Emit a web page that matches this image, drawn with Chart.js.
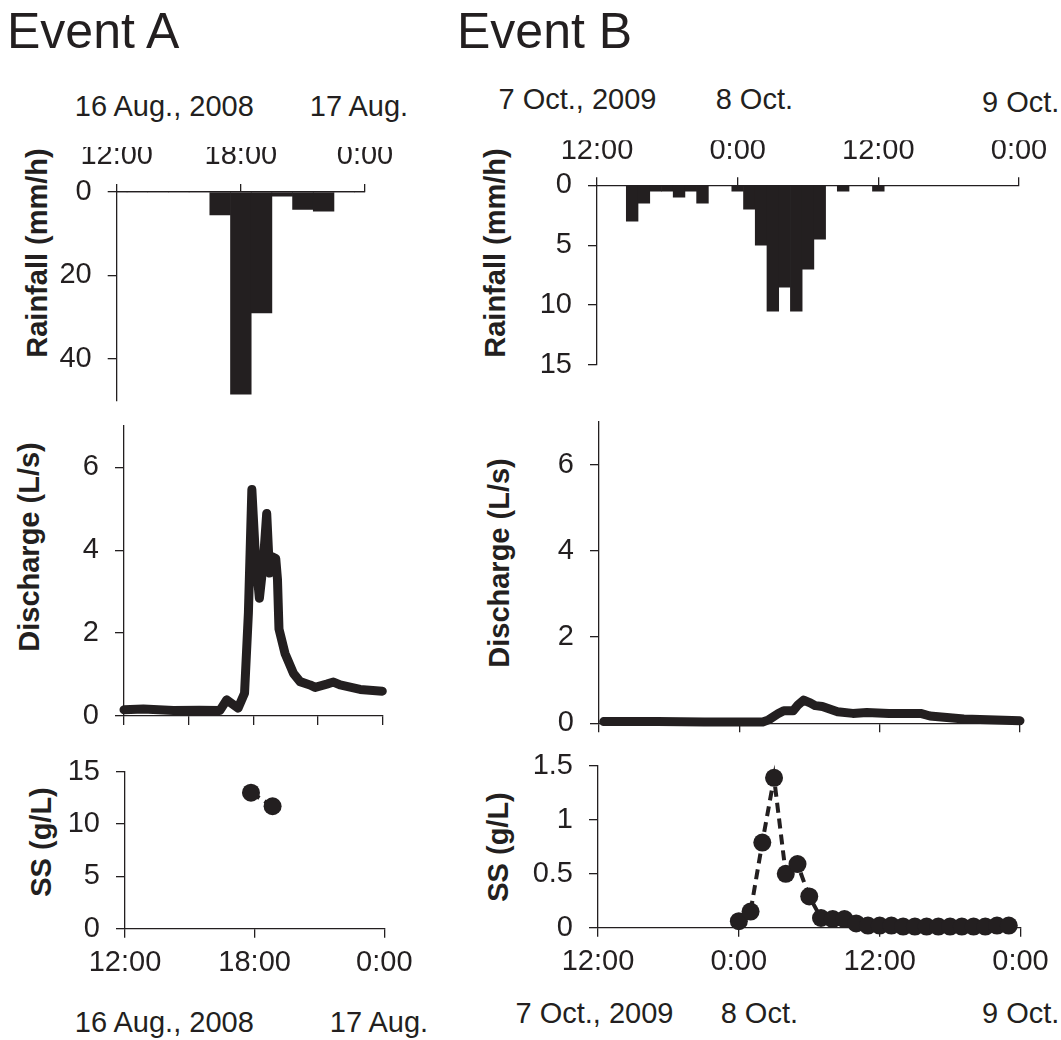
<!DOCTYPE html>
<html><head><meta charset="utf-8">
<script src="https://cdn.jsdelivr.net/npm/chart.js@4.4.1/dist/chart.umd.min.js"></script>
<style>
html,body{margin:0;padding:0;background:#fff;overflow:hidden;}
body{width:1061px;height:1040px;position:relative;font-family:'Liberation Sans',Arial,sans-serif;color:#231f20;}
.t{position:absolute;white-space:nowrap;line-height:1;}
.yt{position:absolute;white-space:nowrap;line-height:1;font-weight:bold;font-size:29px;transform:translate(-50%,-50%) rotate(-90deg);}
canvas{position:absolute;}
</style></head><body>
<script>
// ---------------- DATA (hours counted from 12:00 of the first day) ----------------
// Event A : 16-17 Aug 2008
const rainA_hours = [0,1,2,3,4,5,6,7,8,9,10,11,12];
const rainA_mm    = [0,0,0,0,0,5.5,48.5,29,1,4.2,4.6,0,0];
const dischargeA_hours = [0,0.9,2.3,3.5,4.45,4.77,5.3,5.6,5.78,5.94,6.1,6.29,6.47,6.63,6.76,6.86,7.05,7.13,7.2,7.48,7.87,8.18,8.64,8.88,9.42,9.73,10.04,10.97,12];
const dischargeA_Ls    = [0.15,0.17,0.13,0.14,0.13,0.39,0.19,0.55,2.5,5.47,3.9,2.84,3.69,4.89,3.45,3.85,3.8,3.3,2.1,1.51,1.03,0.83,0.75,0.69,0.77,0.82,0.75,0.64,0.6];
const ssA_hours = [5.83,6.83];
const ssA_gL    = [13.0,11.7];

// Event B : 7-9 Oct 2009
const rainB_hours = [0,1,2,3,4,5,6,7,8,9,10,11,12,13,14,15,16,17,18,19,20,21,22,23,24,25,26,27,28,29,30,31,32,33,34,35,36];
const rainB_mm    = [0,0,0,3,1.5,0.5,0.5,1,0.5,1.5,0,0,0.5,2,5,10.5,8.5,10.5,7,4.5,0,0.5,0,0,0.5,0,0,0,0,0,0,0,0,0,0,0,0];
const dischargeB_hours = [0.4,5,9,14,14.5,15.3,15.8,16.6,17.0,17.5,18.0,18.5,19.1,20.4,21.7,22.9,24.8,27.5,28.3,31.2,36];
const dischargeB_Ls    = [0.04,0.04,0.03,0.03,0.08,0.22,0.29,0.29,0.42,0.54,0.48,0.41,0.39,0.27,0.23,0.25,0.23,0.23,0.17,0.1,0.06];
const ssB_hours = [12,13,14,15,16,17,18,19,20,21,22,23,24,25,26,27,28,29,30,31,32,33,34,35];
const ssB_gL    = [0.06,0.15,0.79,1.39,0.5,0.59,0.29,0.09,0.08,0.08,0.04,0.02,0.02,0.02,0.01,0.01,0.01,0.01,0.01,0.01,0.01,0.01,0.02,0.02];

// Tick values and labels
const xA_ticks = [0,6,12];            const xA_labels = ['12:00','18:00','0:00'];
const xA_dischargeTicks = [0,3,6,9,12];
const xB_ticks = [0,12,24,36];        const xB_labels = ['12:00','0:00','12:00','0:00'];
const rainA_yTicks = [0,20,40];       const rainA_yLabels = ['0','20','40'];
const rainB_yTicks = [0,5,10,15];     const rainB_yLabels = ['0','5','10','15'];
const discharge_yTicks = [0,2,4,6];   const discharge_yLabels = ['0','2','4','6'];
const ssA_yTicks = [0,5,10,15];       const ssA_yLabels = ['0','5','10','15'];
const ssB_yTicks = [0,0.5,1,1.5];     const ssB_yLabels = ['0','0.5','1','1.5'];

// Text
const titles = [['Event A',7,48],['Event B',457,48]];
const dateLabels = [
  ['16 Aug., 2008',74.8,116.7],['17 Aug.',309.8,117],
  ['7 Oct., 2009',498.5,110],['8 Oct.',715.7,110],['9 Oct.',982,113],
  ['16 Aug., 2008',74.8,1033],['17 Aug.',329.8,1033],
  ['7 Oct., 2009',515.5,1024],['8 Oct.',720.7,1024],['9 Oct.',982,1024]
];
const yTitles = [
  ['Rainfall (mm/h)',36.7,252.5],['Discharge (L/s)',29.2,546.7],['SS (g/L)',40.8,841.7],
  ['Rainfall (mm/h)',494.5,252.5],['Discharge (L/s)',498.5,562.5],['SS (g/L)',497.5,846.5]
];

// ---------------- RENDER ----------------
const INK = '#231f20';
const FONT = "'Liberation Sans', Arial, sans-serif";
Chart.defaults.font.family = FONT;
Chart.defaults.font.size = 29;
Chart.defaults.color = INK;

function addText(txt, x, baseline, size) {
  const d = document.createElement('div');
  d.className = 't';
  d.textContent = txt;
  d.style.fontSize = size + 'px';
  d.style.left = x + 'px';
  d.style.top = (baseline - 0.8465 * size) + 'px';
  document.body.appendChild(d);
}
titles.forEach(t => addText(t[0], t[1], t[2], 50));
dateLabels.forEach(t => addText(t[0], t[1], t[2], 29));
yTitles.forEach(t => {
  const d = document.createElement('div');
  d.className = 'yt';
  d.textContent = t[0];
  d.style.left = t[1] + 'px';
  d.style.top = t[2] + 'px';
  document.body.appendChild(d);
});

function pts(xs, ys) { return xs.map((x, i) => ({x: x, y: ys[i]})); }

function panel(cfg) {
  const [L, T, R, B] = cfg.area;
  const WY = 70, HX = 45;
  const cx = Math.floor(L) - 95, cy = Math.floor(T) - 75;
  const cw = Math.ceil(R) + 55 - cx, ch = Math.ceil(B) + 65 - cy;
  const cv = document.createElement('canvas');
  cv.width = cw; cv.height = ch;
  cv.style.left = cx + 'px'; cv.style.top = cy + 'px';
  cv.style.width = cw + 'px'; cv.style.height = ch + 'px';
  document.body.appendChild(cv);
  const topAxis = cfg.xPos === 'top';
  const pad = {
    left: L - cx - WY,
    top: T - cy - (topAxis ? HX : 0),
    right: cx + cw - R,
    bottom: cy + ch - B - (topAxis ? 0 : HX)
  };
  new Chart(cv, {
    type: cfg.type,
    data: {datasets: cfg.datasets},
    options: {
      responsive: false, animation: false, events: [],
      layout: {padding: pad},
      plugins: {legend: {display: false}, tooltip: {enabled: false}},
      scales: {
        x: {
          type: 'linear', position: cfg.xPos, min: cfg.xMin, max: cfg.xMax, offset: false,
          afterBuildTicks: s => { s.ticks = cfg.xTicks.map(v => ({value: v})); },
          afterFit: s => { s.height = HX; },
          ticks: {display: !!cfg.xLabels, padding: cfg.xPad, maxRotation: 0, autoSkip: false,
                  callback: (v, i) => cfg.xLabels ? cfg.xLabels[i] : ''},
          grid: {display: true, drawOnChartArea: false, drawTicks: true, tickLength: cfg.xTL,
                 color: INK, lineWidth: 1.3, offset: false},
          border: {display: true, color: INK, width: 1.3}
        },
        y: {
          type: 'linear', position: 'left', min: cfg.yMin, max: cfg.yMax, reverse: !!cfg.reverse,
          afterBuildTicks: s => { s.ticks = cfg.yTicks.map(v => ({value: v})); },
          afterFit: s => { s.width = WY; },
          ticks: {padding: 16, callback: (v, i) => cfg.yLabels[i]},
          grid: {display: true, drawOnChartArea: false, drawTicks: true, tickLength: 9,
                 color: INK, lineWidth: 1.3},
          border: {display: true, color: INK, width: 1.3}
        }
      }
    }
  });
}

function barSet(xs, ys) {
  return [{type: 'bar', data: pts(xs, ys), backgroundColor: INK, borderWidth: 0,
           barPercentage: 1, categoryPercentage: 1}];
}
function lineSet(xs, ys) {
  return [{type: 'line', data: pts(xs, ys), borderColor: INK, borderWidth: 9, pointRadius: 0,
           tension: 0, fill: false, borderCapStyle: 'round', borderJoinStyle: 'round', clip: false}];
}
function ssSet(xs, ys) {
  return [{type: 'line', data: pts(xs, ys), borderColor: INK, borderWidth: 4, borderDash: [10, 6],
           pointRadius: 9, pointBackgroundColor: INK, pointBorderWidth: 0, tension: 0,
           fill: false, clip: false}];
}

// Event A
panel({type: 'bar', area: [116.7, 192, 365, 400.5], xPos: 'top', xMin: 0, xMax: 12,
       xTicks: xA_ticks, xLabels: xA_labels, xPad: 10.5, xTL: 8,
       yMin: 0, yMax: 50, reverse: true, yTicks: rainA_yTicks, yLabels: rainA_yLabels,
       datasets: barSet(rainA_hours, rainA_mm)});
panel({type: 'line', area: [124, 426, 382.3, 716], xPos: 'bottom', xMin: 0, xMax: 12,
       xTicks: xA_dischargeTicks, xLabels: null, xPad: 8, xTL: 9,
       yMin: 0, yMax: 7, yTicks: discharge_yTicks, yLabels: discharge_yLabels,
       datasets: lineSet(dischargeA_hours, dischargeA_Ls)});
panel({type: 'line', area: [125, 771.7, 384.3, 928.7], xPos: 'bottom', xMin: 0, xMax: 12,
       xTicks: xA_ticks, xLabels: xA_labels, xPad: 8, xTL: 9,
       yMin: 0, yMax: 15, yTicks: ssA_yTicks, yLabels: ssA_yLabels,
       datasets: ssSet(ssA_hours, ssA_gL)});
// Event B
panel({type: 'bar', area: [597, 185.3, 1019, 365], xPos: 'top', xMin: 0, xMax: 36,
       xTicks: xB_ticks, xLabels: xB_labels, xPad: 9, xTL: 8,
       yMin: 0, yMax: 15, reverse: true, yTicks: rainB_yTicks, yLabels: rainB_yLabels,
       datasets: barSet(rainB_hours, rainB_mm)});
panel({type: 'line', area: [599, 421.7, 1020, 723.3], xPos: 'bottom', xMin: 0, xMax: 36,
       xTicks: xB_ticks, xLabels: null, xPad: 8, xTL: 9,
       yMin: 0, yMax: 7, yTicks: discharge_yTicks, yLabels: discharge_yLabels,
       datasets: lineSet(dischargeB_hours, dischargeB_Ls)});
panel({type: 'line', area: [598, 766, 1020.5, 927.7], xPos: 'bottom', xMin: 0, xMax: 36,
       xTicks: xB_ticks, xLabels: xB_labels, xPad: 8, xTL: 9,
       yMin: 0, yMax: 1.5, yTicks: ssB_yTicks, yLabels: ssB_yLabels,
       datasets: ssSet(ssB_hours, ssB_gL)});
</script>
</body></html>
